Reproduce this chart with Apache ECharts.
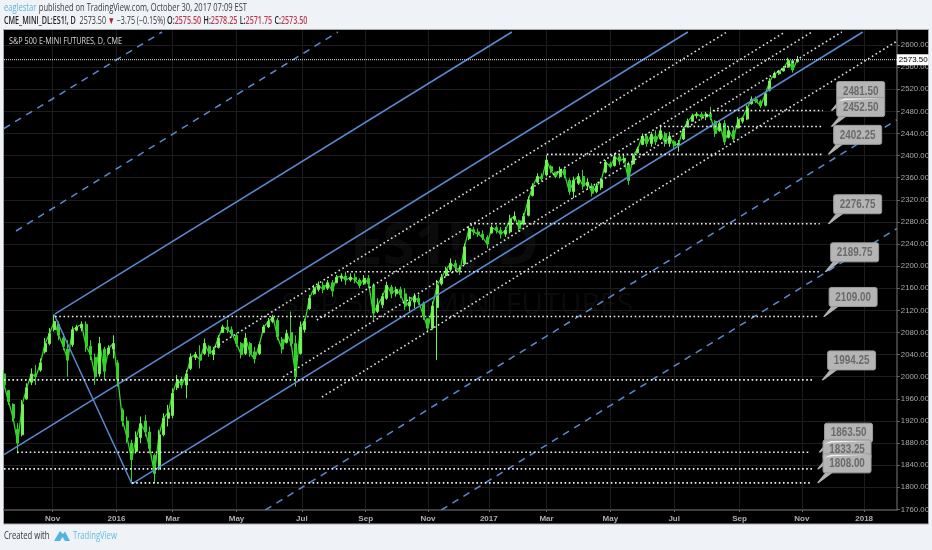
<!DOCTYPE html>
<html><head><meta charset="utf-8">
<style>html,body{margin:0;padding:0;background:#eff3f8}#c{width:932px;height:550px}</style>
<script src="https://cdn.jsdelivr.net/npm/echarts@6/dist/echarts.min.js"></script>
</head><body><div id="c"></div>
<script>
const barStep = 3;
const opens = [2005,1975,1950,1905,1895,1960,1990,2005,2012,2045,2060,2085,2095,2070,2050,2058,2084,2088,2095,2055,2035,2005,2050,2042,2050,2025,1940,1920,1880,1865,1890,1920,1900,1858,1835,1895,1925,1930,1980,1995,1985,2015,2035,2040,2042,2055,2040,2053,2080,2090,2085,2075,2060,2042,2060,2045,2042,2080,2090,2100,2102,2068,2062,2080,2060,2042,2085,2123,2150,2158,2165,2160,2170,2170,2178,2182,2175,2180,2175,2168,2178,2165,2118,2130,2142,2162,2150,2158,2150,2128,2135,2142,2132,2105,2088,2125,2168,2183,2194,2205,2196,2204,2250,2266,2262,2258,2252,2260,2270,2265,2258,2262,2285,2282,2276,2292,2328,2352,2362,2365,2380,2370,2362,2375,2355,2335,2350,2362,2345,2345,2335,2342,2370,2385,2382,2398,2390,2385,2385,2405,2420,2435,2422,2435,2430,2440,2422,2425,2418,2430,2454,2462,2472,2475,2470,2475,2462,2445,2458,2433,2445,2450,2462,2466,2494,2502,2498,2491,2518,2541,2548,2553,2560,2572,2570];
const closes = [1985,1955,1925,1880,1950,1980,2005,2000,2025,2060,2078,2100,2075,2055,2030,2085,2090,2095,2055,2040,2000,2060,2010,2052,2060,1995,1920,1890,1850,1890,1915,1900,1870,1825,1895,1925,1935,1970,1995,1985,2005,2035,2040,2030,2060,2042,2048,2070,2090,2085,2078,2060,2040,2070,2042,2032,2058,2090,2100,2108,2072,2050,2078,2060,2000,2090,2100,2142,2160,2165,2158,2170,2155,2180,2182,2175,2180,2175,2165,2178,2168,2115,2130,2145,2165,2150,2158,2148,2128,2135,2145,2135,2110,2088,2128,2165,2180,2194,2205,2198,2190,2235,2268,2262,2258,2252,2240,2270,2265,2258,2265,2285,2290,2268,2290,2320,2345,2362,2358,2392,2372,2362,2375,2365,2335,2355,2362,2345,2352,2332,2345,2355,2388,2380,2398,2390,2395,2355,2400,2412,2435,2422,2438,2425,2445,2422,2435,2418,2422,2448,2462,2472,2475,2470,2475,2470,2440,2458,2425,2445,2430,2465,2468,2486,2502,2498,2490,2512,2535,2548,2552,2558,2572,2555,2573.5];
const lows = [1979,1949,1919,1861,1892,1958,1985,1985,2009,2042,2057,2082,2066,2048,2000,2054,2082,2082,2045,2030,1985,2000,1994,2039,2033,1982,1910,1880,1810,1861,1880,1892,1861,1807,1831,1892,1910,1925,1976,1979,1961,2012,2030,2015,2039,2036,2030,2051,2079,2079,2072,2054,2033,2039,2036,2024,2039,2079,2088,2097,2066,2042,2060,2055,1982,2040,2080,2121,2148,2154,2151,2157,2145,2169,2172,2166,2172,2169,2160,2166,2160,2103,2115,2124,2139,2142,2145,2142,2121,2118,2124,2130,2103,2082,2085,2030,2165,2181,2190,2190,2184,2202,2247,2256,2253,2247,2232,2259,2259,2250,2253,2259,2281,2262,2274,2290,2326,2350,2353,2362,2368,2359,2359,2359,2329,2323,2347,2338,2338,2326,2332,2338,2368,2377,2380,2383,2386,2347,2383,2404,2419,2416,2416,2419,2428,2416,2416,2413,2407,2428,2452,2461,2467,2464,2464,2464,2434,2443,2419,2431,2425,2449,2458,2464,2492,2495,2486,2489,2516,2540,2546,2552,2559,2550,2568];
const highs = [2012,1976,1952,1916,1958,1988,2015,2021,2033,2070,2088,2112,2100,2078,2066,2091,2094,2100,2100,2066,2042,2072,2054,2057,2075,2030,1943,1928,1886,1901,1928,1931,1910,1861,1904,1934,1949,1979,2003,2000,2012,2042,2045,2057,2069,2057,2054,2075,2094,2103,2091,2079,2063,2079,2063,2054,2063,2094,2106,2112,2106,2072,2085,2118,2075,2100,2105,2148,2166,2172,2172,2175,2175,2184,2187,2190,2187,2187,2178,2184,2184,2169,2142,2151,2172,2166,2163,2163,2160,2145,2151,2148,2136,2106,2136,2175,2186,2199,2214,2211,2202,2241,2273,2271,2268,2265,2256,2274,2274,2271,2271,2293,2299,2284,2296,2326,2350,2368,2368,2401,2383,2371,2380,2380,2359,2362,2368,2374,2359,2350,2350,2359,2392,2389,2404,2401,2401,2389,2404,2416,2440,2440,2443,2446,2452,2443,2443,2428,2428,2452,2467,2476,2479,2479,2479,2488,2464,2464,2464,2452,2452,2470,2470,2491,2507,2507,2501,2516,2540,2552,2555,2562,2577,2574,2580];

// Axes
const xMaxBar = 587.5, yMin = 1758.9, yMax = 2627.2;
const xTickBars = [32,74,111,153,196,238,279,319,357,399,441,484,525,566];
const xTickLabels = ['Nov','2016','Mar','May','Jul','Sep','Nov','2017','Mar','May','Jul','Sep','Nov','2018'];
const yTicks = [1760,1800,1840,1880,1920,1960,2000,2040,2080,2120,2160,2200,2240,2280,2320,2360,2400,2440,2480,2520,2560,2600];

// Pitchfork lines as [startBar, startPrice, endBar, endPrice]
const solidLines = [
  [33.6,2113.5,334.2,2623.6],
  [0,1859,450,2623.6],
  [84.2,1806,565.1,2623.6],
  [32.9,2113,84.2,1806]
];
const dashedLines = [
  [0,2449,104,2623.6],
  [7.9,2263.6,219.7,2623.6],
  [172,1759,587.5,2464.8],
  [287.8,1759,587.5,2268]
];
const dottedLines = [
  [138.8,2053.8,475.7,2623.6],
  [205.9,2102.6,513.9,2623.6],
  [392.1,2386.7,531.6,2623.6],
  [183.6,1999.5,551.3,2623.6],
  [209.2,1963.3,587.5,2607]
];

// Horizontal levels and their callouts
const levels      = [2481.5,2452.5,2402.25,2276.75,2189.75,2109,1994.25,1863.5,1833.25,1808];
const levelStarts = [466.4,431.6,357.2,306.6,225.7,33.6,0,8.6,0,84.2];
const levelEnds   = [538.8,538,538.8,536.8,536.2,535.5,532.2,530.9,532.2,530.3];
const calloutBars = [544,544,542,542,540,539,538,536,535,535];
const lastPrice = 2573.5;

const ARIAL = '"Liberation Sans",Arial,sans-serif';
const UI = '"Open Sans",sans-serif';
const BLUE = '#5a8ad0';

const segment = (l) => [[l[0],l[1]],[l[2],l[3]]];
const lineSeries = (name, data, style) => ({
  name, type:'line', data, showSymbol:false, symbol:'none', silent:true, animation:false, z:4,
  lineStyle:style, clip:true
});

const series = [];
series.push(lineSeries('closes', closes.map((c,i)=>[i*barStep,c]), {color:'#3ad42e',width:1.3}));
series[0].z = 3;
series.push({
  name:'ES1!', type:'candlestick', barWidth:2.5, animation:false, z:3,
  encode:{x:0,y:[1,2,3,4]},
  data: closes.map((c,i)=>[i*barStep,opens[i],c,lows[i],highs[i]]),
  itemStyle:{color:'#78f25a',color0:'#35cf2a',borderColor:'#6cf04e',borderColor0:'#34d22a',borderWidth:1}
});
solidLines.forEach((l,i)=>series.push(lineSeries('solid'+i,segment(l),{color:BLUE,width:1.5})));
dashedLines.forEach((l,i)=>series.push(lineSeries('dashed'+i,segment(l),{color:BLUE,width:1.5,type:[7,6]})));
dottedLines.forEach((l,i)=>series.push(lineSeries('dotted'+i,segment(l),{color:'#e0e0e0',width:1.6,type:[1.6,2.8]})));
levels.forEach((v,i)=>series.push(lineSeries('level'+i,[[levelStarts[i],v],[levelEnds[i],v]],{color:'#f2f2f2',width:1.6,type:[1.6,2.6]})));

const last = lineSeries('last',[[0,lastPrice],[xMaxBar,lastPrice]],{color:'#e8e8e8',width:1,type:[1,1]});
last.z = 6;
last.endLabel = {show:true,formatter:lastPrice.toFixed(2),backgroundColor:'#ffffff',color:'#000',
  fontFamily:ARIAL,fontSize:8,padding:[2,1,1,2],distance:0};
series.push(last);

// callouts: pointer + box + text anchored on the level through the axes
series.push({
  name:'callouts', type:'custom', silent:true, animation:false, z:8, clip:false,
  encode:{x:0,y:1},
  data: levels.map((v,i)=>[calloutBars[i],v,i]),
  renderItem:function(params,api){
    const p = api.coord([api.value(0),api.value(1)]);
    const x=p[0], y=p[1], bx=x+6, by=y-29, w=48, h=19;
    const idx = api.value(2);
    const kids = [
      {type:'polygon',shape:{points:[[x,y],[bx+3,by+h-1],[bx+11,by+h-1],[x+1.5,y+0.5]]},style:{fill:'#b0b0b0'}},
      {type:'rect',shape:{x:bx,y:by,width:w,height:h,r:2},style:{fill:'#b5b5b5',stroke:'#9a9a9a',lineWidth:1}}
    ];
    if (idx===1||idx===8||idx===9) kids.push({type:'polygon',shape:{points:[[bx+1,by+4],[bx+8,by+1],[bx+w-2,by+1],[bx+9,by+2.5]]},style:{fill:'#f2f2f2'}});
    kids.push({type:'text',x:bx+w/2,y:by+h/2,scaleX:0.73,style:{text:levels[idx].toFixed(2),fill:'#6a6a6a',font:'bold 13.5px '+ARIAL,align:'center',verticalAlign:'middle'}});
    return {type:'group',children:kids};
  }
});

const logoPts = [[54,541],[60,531],[63,534],[65,531.5],[70,541],[65,541],[62.5,537],[60,541]];
const squeezed = (x,y,sx,style) => ({type:'text',silent:true,z:20,x,y,scaleX:sx,style});

const option = {
  animation:false,
  backgroundColor:'#eff3f8',
  grid:{left:4,right:35,top:30,bottom:40,show:false},
  xAxis:{type:'value',min:0,max:xMaxBar,
    axisLine:{show:true,onZero:false,lineStyle:{color:'#505050',width:1.5}},
    axisTick:{show:true,length:2,customValues:xTickBars,lineStyle:{color:'#666'}},
    axisLabel:{customValues:xTickBars,color:'#b0b0b0',fontFamily:ARIAL,fontSize:8,fontWeight:'bold',margin:5,
      formatter:(v)=>xTickLabels[xTickBars.indexOf(v)]||''},
    splitLine:{show:true,lineStyle:{color:'#1d1d1d',width:1}}
  },
  yAxis:{type:'value',position:'right',min:yMin,max:yMax,
    axisLine:{show:true,onZero:false,lineStyle:{color:'#505050',width:1.5}},
    axisTick:{show:true,length:3,customValues:yTicks,lineStyle:{color:'#666'}},
    axisLabel:{customValues:yTicks,color:'#aaaaaa',fontFamily:ARIAL,fontSize:7.8,margin:4,
      formatter:(v)=>v.toFixed(2)},
    splitLine:{show:true,lineStyle:{color:'#1d1d1d',width:1}}
  },
  graphic:[
    {type:'rect',z:-5,silent:true,shape:{x:3.5,y:29.5,width:925,height:494.5},style:{fill:'#000',stroke:'#a8a8a8',lineWidth:1}},
    {type:'text',z:-4,silent:true,x:350,y:218,style:{text:'ES1!, D',fill:'#0b0b0b',font:'bold 58px '+UI}},
    {type:'text',z:-4,silent:true,x:282,y:290,style:{text:'S&P 500 E-MINI FUTURES',fill:'#0b0b0b',font:'30px '+UI}},
    squeezed(4,2,0.755,{text:'{a|eaglestar} {b|published on TradingView.com, October 30, 2017 07:09 EST}',
      rich:{a:{fill:'#5db4d8',font:'10px '+UI},b:{fill:'#3a3a3a',font:'10px '+UI}}}),
    squeezed(4,15,0.715,{text:'{b|CME_MINI_DL:ES1!, D}{n|  2573.50 }{r|▼}{n| −3.75 (−0.15%) }{b|O:}{v|2575.50} {b|H:}{v|2578.25} {b|L:}{v|2571.75} {b|C:}{v|2573.50}',
      rich:{b:{fill:'#222',font:'600 10px '+UI},n:{fill:'#333',font:'10px '+UI},r:{fill:'#b3202c',font:'10px '+UI},v:{fill:'#c0394f',font:'600 10px '+UI}}}),
    squeezed(9,36,0.765,{text:'S&P 500 E-MINI FUTURES, D, CME',fill:'#d8d8d8',font:'9.5px '+UI}),
    squeezed(4,531,0.73,{text:'Created with',fill:'#333',font:'10.5px '+UI}),
    squeezed(73,531,0.73,{text:'TradingView',fill:'#62bbdf',font:'10.5px '+UI}),
    {type:'polygon',silent:true,shape:{points:logoPts},style:{fill:'#4fb4e0'}}
  ],
  series
};
echarts.init(document.getElementById('c'),null,{renderer:'canvas'}).setOption(option);
</script>
</body></html>
